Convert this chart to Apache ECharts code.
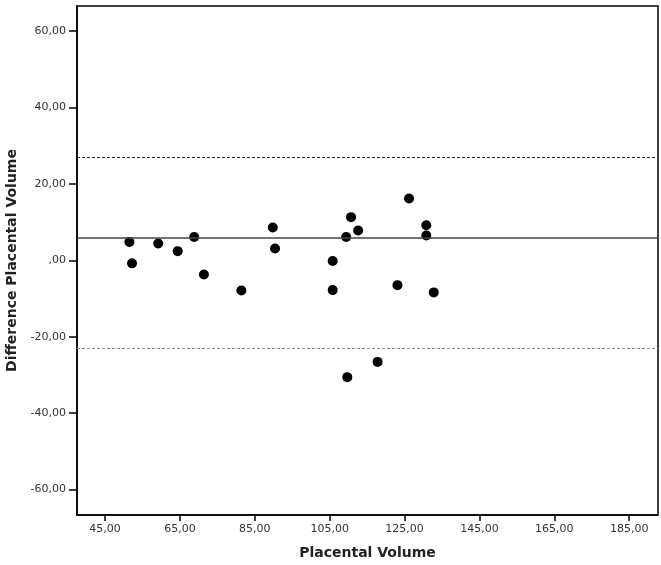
<!DOCTYPE html>
<html>
<head>
<meta charset="utf-8">
<script src="https://cdn.jsdelivr.net/npm/echarts@6/dist/echarts.min.js"></script>
<style>
  html, body { margin: 0; padding: 0; background: #fff; }
  #chart { width: 661px; height: 565px; }
</style>
</head>
<body>
<div id="chart"></div>
<script>
// placental volume (x) and difference (y)
let volume = [51.5, 52.2, 59.2, 64.4, 68.8, 71.4, 81.4, 89.8, 90.4, 105.8, 105.8, 109.4,
  110.7, 112.6, 126.2, 130.8, 130.8, 123.1, 132.8, 117.8, 109.7];
let difference = [4.8, -0.8, 4.4, 2.4, 6.1, -3.7, -7.9, 8.6, 3.1, -0.2, -7.8, 6.1,
  11.3, 7.8, 16.2, 9.2, 6.5, -6.5, -8.4, -26.6, -30.6];
let meanDiff = 5.8;
let upperLimit = 27.0;
let lowerLimit = -22.9;
let xTicks = [45, 65, 85, 105, 125, 145, 165, 185];
let yTicks = [-60, -40, -20, 0, 20, 40, 60];

let fmt = (v) => {
  let s = Math.abs(v).toFixed(2).replace(".", ",");
  if (s.startsWith("0,")) s = s.slice(1);
  return (v < 0 ? "-" : "") + s;
};

let chart = echarts.init(document.getElementById("chart"));
let points = volume.map((v, i) => [v, difference[i]]);

let option = {
  animation: false,
  textStyle: { fontFamily: "DejaVu Sans" },
  grid: {
    left: 77,
    top: 6,
    right: 3,
    bottom: 50,
    outerBoundsMode: "none",
    show: true,
    borderColor: "#000",
    borderWidth: 1.5,
  },
  xAxis: {
    type: "value",
    min: 37.5,
    max: 192.7,
    name: "Placental Volume",
    nameLocation: "middle",
    nameGap: 31,
    nameTextStyle: { fontSize: 14, fontWeight: "bold", color: "#222" },
    axisLine: { show: true, onZero: false, lineStyle: { color: "#000", width: 1.5 } },
    axisTick: { show: true, length: 6, customValues: xTicks, lineStyle: { color: "#000", width: 1.5 } },
    axisLabel: { customValues: xTicks, formatter: fmt, fontSize: 11, color: "#333", margin: 9 },
    splitLine: { show: false },
  },
  yAxis: {
    type: "value",
    min: -66.7,
    max: 66.6,
    name: "Difference Placental Volume",
    nameLocation: "middle",
    nameGap: 56,
    nameTextStyle: { fontSize: 14, fontWeight: "bold", color: "#222" },
    axisLine: { show: true, onZero: false, lineStyle: { color: "#000", width: 1.5 } },
    axisTick: { show: true, length: 8, customValues: yTicks, lineStyle: { color: "#000", width: 1.5 } },
    axisLabel: { customValues: yTicks, formatter: fmt, fontSize: 11, color: "#333", margin: 11 },
    splitLine: { show: false },
  },
  series: [
    {
      type: "scatter",
      data: points,
      symbolSize: 10,
      itemStyle: { color: "#000", opacity: 1 },
      markLine: {
        silent: true,
        symbol: "none",
        label: { show: false },
        data: [
          { yAxis: meanDiff, lineStyle: { color: "#444", width: 1.5, type: "solid" } },
          { yAxis: upperLimit, lineStyle: { color: "#222", width: 1, type: [3, 2] } },
          { yAxis: lowerLimit, lineStyle: { color: "#888", width: 1, type: [3, 2] } },
        ],
      },
    },
  ],
};
chart.setOption(option);
</script>
</body>
</html>
